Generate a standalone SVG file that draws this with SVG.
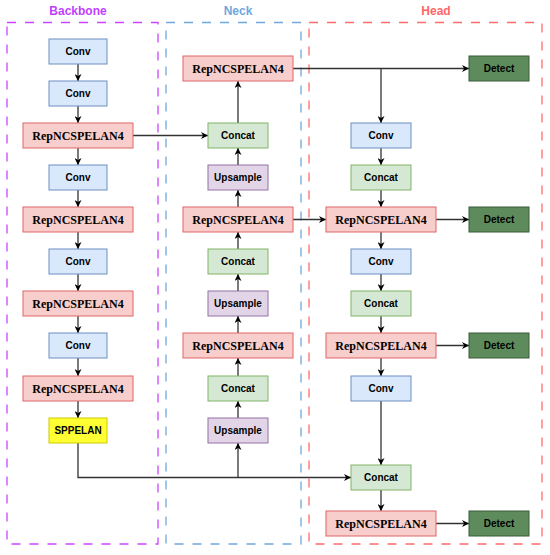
<svg xmlns="http://www.w3.org/2000/svg" width="550" height="555" viewBox="0 0 550 555">
<style>
.t{font-family:"Liberation Sans",Arial,sans-serif;font-weight:bold;font-size:10px;fill:#000;text-anchor:middle;dominant-baseline:central}
.r{font-family:"Liberation Serif","Times New Roman",serif;font-weight:bold;font-size:12px;fill:#000;text-anchor:middle;dominant-baseline:central}
.title{font-family:"Liberation Sans",Arial,sans-serif;font-weight:bold;font-size:12px;text-anchor:middle}
.conv{fill:#dae8fc;stroke:#6c8ebf;stroke-width:1}
.rep{fill:#f8cecc;stroke:#e06666;stroke-width:1}
.cat{fill:#d5e8d4;stroke:#82b366;stroke-width:1}
.up{fill:#e1d5e7;stroke:#9673a6;stroke-width:1}
.spp{fill:#ffff33;stroke:#cccc00;stroke-width:1}
.det{fill:#5e8b5c;stroke:#3a5a38;stroke-width:1}
.c{fill:none;stroke:#333;stroke-width:1.3}
.reg{fill:none;stroke-width:1.3;stroke-dasharray:9 9}
</style>
<defs>
<marker id="a" viewBox="0 0 10 10" refX="10" refY="5" markerWidth="7" markerHeight="7" markerUnits="userSpaceOnUse" orient="auto">
<path d="M0,0 L10,5 L0,10 L3,5 Z" fill="#000"/>
</marker>
</defs>
<g id="regions">
<rect class="reg" x="7" y="22.5" width="151" height="521.5" stroke="#cc44ff"/>
<rect class="reg" x="166" y="22.5" width="135" height="521.5" stroke="#6fa8dc"/>
<rect class="reg" x="309" y="22.5" width="233" height="521.5" stroke="#ff6b6b"/>
<text class="title" x="78" y="15" fill="#bf40ff">Backbone</text>
<text class="title" x="238" y="15" fill="#6fa8dc">Neck</text>
<text class="title" x="436" y="15" fill="#ff6666">Head</text>
</g>
<g id="connectors">
<line class="c" x1="78" y1="64" x2="78" y2="81" marker-end="url(#a)"/>
<line class="c" x1="78" y1="106" x2="78" y2="123" marker-end="url(#a)"/>
<line class="c" x1="78" y1="148" x2="78" y2="165" marker-end="url(#a)"/>
<line class="c" x1="78" y1="190" x2="78" y2="207" marker-end="url(#a)"/>
<line class="c" x1="78" y1="232" x2="78" y2="249" marker-end="url(#a)"/>
<line class="c" x1="78" y1="274" x2="78" y2="291" marker-end="url(#a)"/>
<line class="c" x1="78" y1="316" x2="78" y2="333" marker-end="url(#a)"/>
<line class="c" x1="78" y1="358" x2="78" y2="376" marker-end="url(#a)"/>
<line class="c" x1="78" y1="401" x2="78" y2="418" marker-end="url(#a)"/>
<line class="c" x1="133" y1="135.5" x2="208" y2="135.5" marker-end="url(#a)"/>
<polyline class="c" points="78,443 78,477.5 351,477.5" marker-end="url(#a)"/>
<line class="c" x1="238" y1="477.5" x2="238" y2="443" marker-end="url(#a)"/>
<line class="c" x1="238" y1="418" x2="238" y2="401" marker-end="url(#a)"/>
<line class="c" x1="238" y1="376" x2="238" y2="358" marker-end="url(#a)"/>
<line class="c" x1="238" y1="333" x2="238" y2="316" marker-end="url(#a)"/>
<line class="c" x1="238" y1="291" x2="238" y2="274" marker-end="url(#a)"/>
<line class="c" x1="238" y1="249" x2="238" y2="232" marker-end="url(#a)"/>
<line class="c" x1="238" y1="207" x2="238" y2="190" marker-end="url(#a)"/>
<line class="c" x1="238" y1="165" x2="238" y2="148" marker-end="url(#a)"/>
<line class="c" x1="238" y1="123" x2="238" y2="81" marker-end="url(#a)"/>
<line class="c" x1="293" y1="68.5" x2="469" y2="68.5" marker-end="url(#a)"/>
<line class="c" x1="381" y1="68.5" x2="381" y2="123" marker-end="url(#a)"/>
<line class="c" x1="293" y1="219.5" x2="326" y2="219.5" marker-end="url(#a)"/>
<line class="c" x1="381" y1="148" x2="381" y2="165" marker-end="url(#a)"/>
<line class="c" x1="381" y1="190" x2="381" y2="207" marker-end="url(#a)"/>
<line class="c" x1="381" y1="232" x2="381" y2="249" marker-end="url(#a)"/>
<line class="c" x1="381" y1="274" x2="381" y2="291" marker-end="url(#a)"/>
<line class="c" x1="381" y1="316" x2="381" y2="333" marker-end="url(#a)"/>
<line class="c" x1="381" y1="358" x2="381" y2="376" marker-end="url(#a)"/>
<line class="c" x1="381" y1="401" x2="381" y2="465" marker-end="url(#a)"/>
<line class="c" x1="381" y1="490" x2="381" y2="511" marker-end="url(#a)"/>
<line class="c" x1="436" y1="219.5" x2="469" y2="219.5" marker-end="url(#a)"/>
<line class="c" x1="436" y1="345.5" x2="469" y2="345.5" marker-end="url(#a)"/>
<line class="c" x1="436" y1="523.5" x2="469" y2="523.5" marker-end="url(#a)"/>
</g>
<g id="b_conv1"><rect class="conv" x="49" y="39" width="58" height="25"/><text class="t" x="78" y="51.5">Conv</text></g>
<g id="b_conv2"><rect class="conv" x="49" y="81" width="58" height="25"/><text class="t" x="78" y="93.5">Conv</text></g>
<g id="b_rep1"><rect class="rep" x="23" y="123" width="110" height="25"/><text class="r" x="78" y="135.5">RepNCSPELAN4</text></g>
<g id="b_conv3"><rect class="conv" x="49" y="165" width="58" height="25"/><text class="t" x="78" y="177.5">Conv</text></g>
<g id="b_rep2"><rect class="rep" x="23" y="207" width="110" height="25"/><text class="r" x="78" y="219.5">RepNCSPELAN4</text></g>
<g id="b_conv4"><rect class="conv" x="49" y="249" width="58" height="25"/><text class="t" x="78" y="261.5">Conv</text></g>
<g id="b_rep3"><rect class="rep" x="23" y="291" width="110" height="25"/><text class="r" x="78" y="303.5">RepNCSPELAN4</text></g>
<g id="b_conv5"><rect class="conv" x="49" y="333" width="58" height="25"/><text class="t" x="78" y="345.5">Conv</text></g>
<g id="b_rep4"><rect class="rep" x="23" y="376" width="110" height="25"/><text class="r" x="78" y="388.5">RepNCSPELAN4</text></g>
<g id="b_spp"><rect class="spp" x="49" y="418" width="58" height="25"/><text class="t" x="78" y="430.5">SPPELAN</text></g>
<g id="n_rep1"><rect class="rep" x="183" y="56" width="110" height="25"/><text class="r" x="238" y="68.5">RepNCSPELAN4</text></g>
<g id="n_cat1"><rect class="cat" x="208" y="123" width="60" height="25"/><text class="t" x="238" y="135.5">Concat</text></g>
<g id="n_up1"><rect class="up" x="208" y="165" width="60" height="25"/><text class="t" x="238" y="177.5">Upsample</text></g>
<g id="n_rep2"><rect class="rep" x="183" y="207" width="110" height="25"/><text class="r" x="238" y="219.5">RepNCSPELAN4</text></g>
<g id="n_cat2"><rect class="cat" x="208" y="249" width="60" height="25"/><text class="t" x="238" y="261.5">Concat</text></g>
<g id="n_up2"><rect class="up" x="208" y="291" width="60" height="25"/><text class="t" x="238" y="303.5">Upsample</text></g>
<g id="n_rep3"><rect class="rep" x="183" y="333" width="110" height="25"/><text class="r" x="238" y="345.5">RepNCSPELAN4</text></g>
<g id="n_cat3"><rect class="cat" x="208" y="376" width="60" height="25"/><text class="t" x="238" y="388.5">Concat</text></g>
<g id="n_up3"><rect class="up" x="208" y="418" width="60" height="25"/><text class="t" x="238" y="430.5">Upsample</text></g>
<g id="h_conv1"><rect class="conv" x="351" y="123" width="60" height="25"/><text class="t" x="381" y="135.5">Conv</text></g>
<g id="h_cat1"><rect class="cat" x="351" y="165" width="60" height="25"/><text class="t" x="381" y="177.5">Concat</text></g>
<g id="h_rep1"><rect class="rep" x="326" y="207" width="110" height="25"/><text class="r" x="381" y="219.5">RepNCSPELAN4</text></g>
<g id="h_conv2"><rect class="conv" x="351" y="249" width="60" height="25"/><text class="t" x="381" y="261.5">Conv</text></g>
<g id="h_cat2"><rect class="cat" x="351" y="291" width="60" height="25"/><text class="t" x="381" y="303.5">Concat</text></g>
<g id="h_rep2"><rect class="rep" x="326" y="333" width="110" height="25"/><text class="r" x="381" y="345.5">RepNCSPELAN4</text></g>
<g id="h_conv3"><rect class="conv" x="351" y="376" width="60" height="25"/><text class="t" x="381" y="388.5">Conv</text></g>
<g id="h_cat3"><rect class="cat" x="351" y="465" width="60" height="25"/><text class="t" x="381" y="477.5">Concat</text></g>
<g id="h_rep3"><rect class="rep" x="326" y="511" width="110" height="25"/><text class="r" x="381" y="523.5">RepNCSPELAN4</text></g>
<g id="det1"><rect class="det" x="469" y="56" width="60" height="25"/><text class="t" x="499" y="68.5">Detect</text></g>
<g id="det2"><rect class="det" x="469" y="207" width="60" height="25"/><text class="t" x="499" y="219.5">Detect</text></g>
<g id="det3"><rect class="det" x="469" y="333" width="60" height="25"/><text class="t" x="499" y="345.5">Detect</text></g>
<g id="det4"><rect class="det" x="469" y="511" width="60" height="25"/><text class="t" x="499" y="523.5">Detect</text></g>
</svg>
